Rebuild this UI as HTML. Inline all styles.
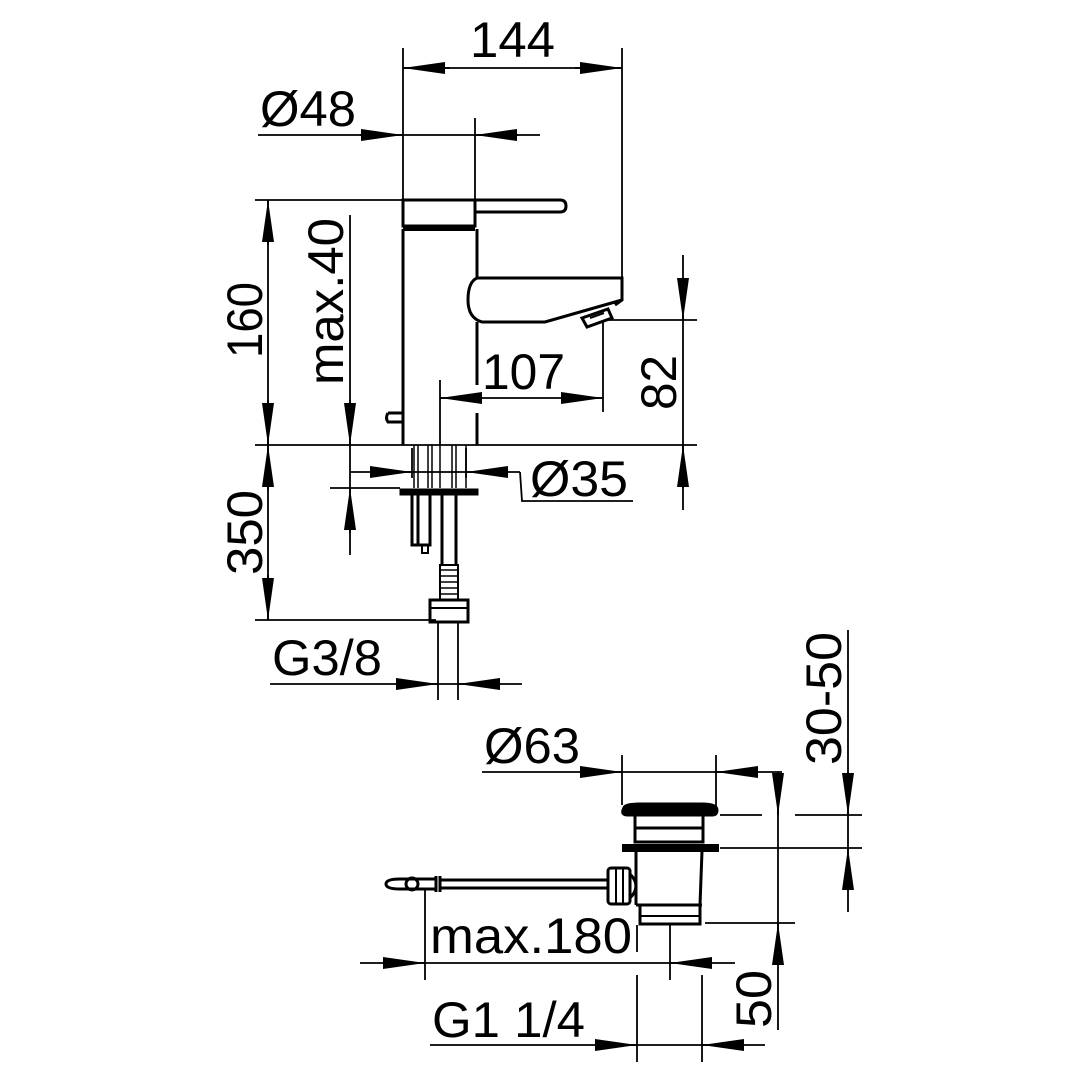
<!DOCTYPE html>
<html><head><meta charset="utf-8"><style>html,body{margin:0;padding:0;background:#fff}svg{display:block}text{font-family:"Liberation Sans",sans-serif;font-size:50px;fill:#000}</style></head><body>
<svg width="1080" height="1080" viewBox="0 0 1080 1080" xmlns="http://www.w3.org/2000/svg">
<defs>
<marker id="a" viewBox="0 0 42 12" refX="42" refY="6" markerWidth="42" markerHeight="12" markerUnits="userSpaceOnUse" orient="auto"><path d="M0,0 L42,6 L0,12 z" fill="#000"/></marker>
</defs>
<g stroke="#000" stroke-width="1.8" fill="none">
<line x1="403" y1="48" x2="403" y2="200"/><line x1="622" y1="48" x2="622" y2="278"/>
<line x1="403" y1="68" x2="622" y2="68"/>
<line x1="450" y1="68" x2="403" y2="68" marker-end="url(#a)"/><line x1="575" y1="68" x2="622" y2="68" marker-end="url(#a)"/>
<line x1="258" y1="135" x2="540" y2="135"/><line x1="475" y1="118" x2="475" y2="200"/>
<line x1="360" y1="135" x2="403" y2="135" marker-end="url(#a)"/><line x1="518" y1="135" x2="475" y2="135" marker-end="url(#a)"/>
<line x1="255" y1="200" x2="403" y2="200"/>
<line x1="268" y1="200" x2="268" y2="445"/>
<line x1="268" y1="245" x2="268" y2="200" marker-end="url(#a)"/><line x1="268" y1="400" x2="268" y2="445" marker-end="url(#a)"/>
<line x1="255" y1="445" x2="697" y2="445"/>
<line x1="350" y1="215" x2="350" y2="555"/>
<line x1="350" y1="400" x2="350" y2="445" marker-end="url(#a)"/><line x1="350" y1="533" x2="350" y2="488" marker-end="url(#a)"/>
<line x1="330" y1="488" x2="400" y2="488"/>
<line x1="268" y1="445" x2="268" y2="620"/>
<line x1="268" y1="490" x2="268" y2="445" marker-end="url(#a)"/><line x1="268" y1="575" x2="268" y2="620" marker-end="url(#a)"/>
<line x1="255" y1="620" x2="436" y2="620"/>
<line x1="605" y1="320" x2="697" y2="320"/>
<line x1="683" y1="255" x2="683" y2="510"/>
<line x1="683" y1="278" x2="683" y2="320" marker-end="url(#a)"/><line x1="683" y1="488" x2="683" y2="445" marker-end="url(#a)"/>
<line x1="440" y1="380" x2="440" y2="445"/><line x1="603" y1="322" x2="603" y2="412"/>
<line x1="440" y1="398" x2="603" y2="398"/>
<line x1="482" y1="398" x2="440" y2="398" marker-end="url(#a)"/><line x1="561" y1="398" x2="603" y2="398" marker-end="url(#a)"/>
<line x1="412" y1="448" x2="412" y2="478"/><line x1="466" y1="448" x2="466" y2="478"/>
<line x1="350" y1="472" x2="520" y2="472"/>
<line x1="370" y1="472" x2="412" y2="472" marker-end="url(#a)"/><line x1="508" y1="472" x2="466" y2="472" marker-end="url(#a)"/>
<polyline points="520,472 522,501 633,501"/>
<line x1="438" y1="622" x2="438" y2="700"/><line x1="458" y1="622" x2="458" y2="700"/>
<line x1="270" y1="684" x2="522" y2="684"/>
<line x1="396" y1="684" x2="438" y2="684" marker-end="url(#a)"/><line x1="500" y1="684" x2="458" y2="684" marker-end="url(#a)"/>
</g>
<g stroke="#000" stroke-width="3" fill="none">
<path d="M403,200 H475 V226 H403 Z"/>
<path d="M475,200 H560 Q566,200 566,206 Q566,212 560,212 H475"/>
<line x1="403" y1="229" x2="475" y2="229" stroke-width="4"/>
<line x1="403" y1="229" x2="403" y2="445"/>
<path d="M477,229 V278"/><path d="M477,322 V385"/><path d="M477,413 V445"/>
<path d="M477,278 H622 V300 L615,305 M622,300 L545,322 H482 Q468,318 468,300 Q468,282 477,278"/>
<path d="M582,318 L608,309 L612,318 L587,327 Z"/><path d="M590,318 L604,313" stroke-width="2"/>
<path d="M388,413 H403 V422 H388 Q385,418 388,413"/>
<path d="M414,445 V488 M418,445 V488 M428,445 V488 M432,445 V488 M440,445 V488 M452,445 V488 M456,445 V488 M466,445 V488" stroke-width="1.5"/>
<rect x="400" y="489" width="78" height="6" fill="#000" stroke-width="1"/>
<path d="M412,495 V545 H430 V495 M418,495 V545"/>
<path d="M422,545 V553 H428 V545" stroke-width="2"/>
<path d="M442,495 V565 M456,495 V565"/>
<path d="M440,565 H458 V600 H440 Z" stroke-width="2"/>
<path d="M440,570 H458 M440,576 H458 M440,582 H458 M440,588 H458 M440,594 H458" stroke-width="1.5"/>
<rect x="430" y="600" width="38" height="22"/><line x1="430" y1="608" x2="468" y2="608" stroke-width="2"/>
</g>
<g stroke="#000" stroke-width="1.8" fill="none">
<line x1="622" y1="755" x2="622" y2="805"/><line x1="716" y1="755" x2="716" y2="810"/>
<line x1="482" y1="772" x2="782" y2="772"/>
<line x1="580" y1="772" x2="622" y2="772" marker-end="url(#a)"/><line x1="758" y1="772" x2="716" y2="772" marker-end="url(#a)"/>
<line x1="720" y1="815" x2="762" y2="815"/><line x1="795" y1="815" x2="862" y2="815"/>
<line x1="720" y1="848" x2="862" y2="848"/>
<line x1="848" y1="630" x2="848" y2="912"/>
<line x1="848" y1="772" x2="848" y2="815" marker-end="url(#a)"/><line x1="848" y1="890" x2="848" y2="848" marker-end="url(#a)"/>
<line x1="778" y1="783" x2="778" y2="1030"/>
<line x1="778" y1="772" x2="778" y2="815" marker-end="url(#a)"/><line x1="778" y1="965" x2="778" y2="923" marker-end="url(#a)"/>
<line x1="705" y1="923" x2="795" y2="923"/>
<line x1="425" y1="890" x2="425" y2="980"/><line x1="670" y1="925" x2="670" y2="980"/><line x1="637" y1="925" x2="637" y2="952"/>
<line x1="360" y1="963" x2="735" y2="963"/>
<line x1="383" y1="963" x2="425" y2="963" marker-end="url(#a)"/><line x1="712" y1="963" x2="670" y2="963" marker-end="url(#a)"/>
<line x1="637" y1="975" x2="637" y2="1062"/><line x1="702" y1="975" x2="702" y2="1062"/>
<line x1="430" y1="1045" x2="765" y2="1045"/>
<line x1="595" y1="1045" x2="637" y2="1045" marker-end="url(#a)"/><line x1="744" y1="1045" x2="702" y2="1045" marker-end="url(#a)"/>
</g>
<g stroke="#000" stroke-width="3" fill="none">
<path d="M624,808 Q624,804 640,804 H702 Q717,804 717,810 Q717,815 712,815 H628 Q620,815 624,808 Z" fill="#000"/>
<path d="M635,815 V842 H703 V815 M636,828 H702"/>
<rect x="623" y="845" width="95" height="6" fill="#000" stroke-width="2"/>
<path d="M636,851 V905 M702,851 L700,905 M636,905 H702"/>
<path d="M640,905 V924 H700 V905"/>
<path d="M640,916 H700" stroke-width="2"/>
<rect x="608" y="868" width="22" height="36" rx="3"/>
<path d="M616,868 V904 M623,868 V904" stroke-width="2"/>
<path d="M630,874 Q642,886 630,898"/>
<path d="M608,880 H440 M608,888 H440"/>
<path d="M440,876 V892 M436,876 V892"/>
<path d="M436,879 H400 Q386,879 386,884 Q386,889 400,889 H436"/>
<circle cx="412" cy="884" r="6"/>
</g>
<g>
<text x="470" y="57" textLength="85" lengthAdjust="spacingAndGlyphs">144</text>
<text x="260" y="126" textLength="96" lengthAdjust="spacingAndGlyphs">Ø48</text>
<text transform="translate(262,358) rotate(-90)" textLength="76" lengthAdjust="spacingAndGlyphs">160</text>
<text transform="translate(343,385) rotate(-90)" textLength="167" lengthAdjust="spacingAndGlyphs">max.40</text>
<text x="482" y="389" textLength="83" lengthAdjust="spacingAndGlyphs">107</text>
<text transform="translate(676,410) rotate(-90)" textLength="55" lengthAdjust="spacingAndGlyphs">82</text>
<text x="530" y="496" textLength="98" lengthAdjust="spacingAndGlyphs">Ø35</text>
<text transform="translate(262,575) rotate(-90)" textLength="85" lengthAdjust="spacingAndGlyphs">350</text>
<text x="272" y="675" textLength="110" lengthAdjust="spacingAndGlyphs">G3/8</text>
<text x="484" y="763" textLength="96" lengthAdjust="spacingAndGlyphs">Ø63</text>
<text transform="translate(841,765) rotate(-90)" textLength="133" lengthAdjust="spacingAndGlyphs">30-50</text>
<text x="430" y="953" textLength="202" lengthAdjust="spacingAndGlyphs">max.180</text>
<text transform="translate(771,1028) rotate(-90)" textLength="58" lengthAdjust="spacingAndGlyphs">50</text>
<text x="432" y="1037" textLength="153" lengthAdjust="spacingAndGlyphs">G1 1/4</text>
</g>
</svg>
</body></html>
